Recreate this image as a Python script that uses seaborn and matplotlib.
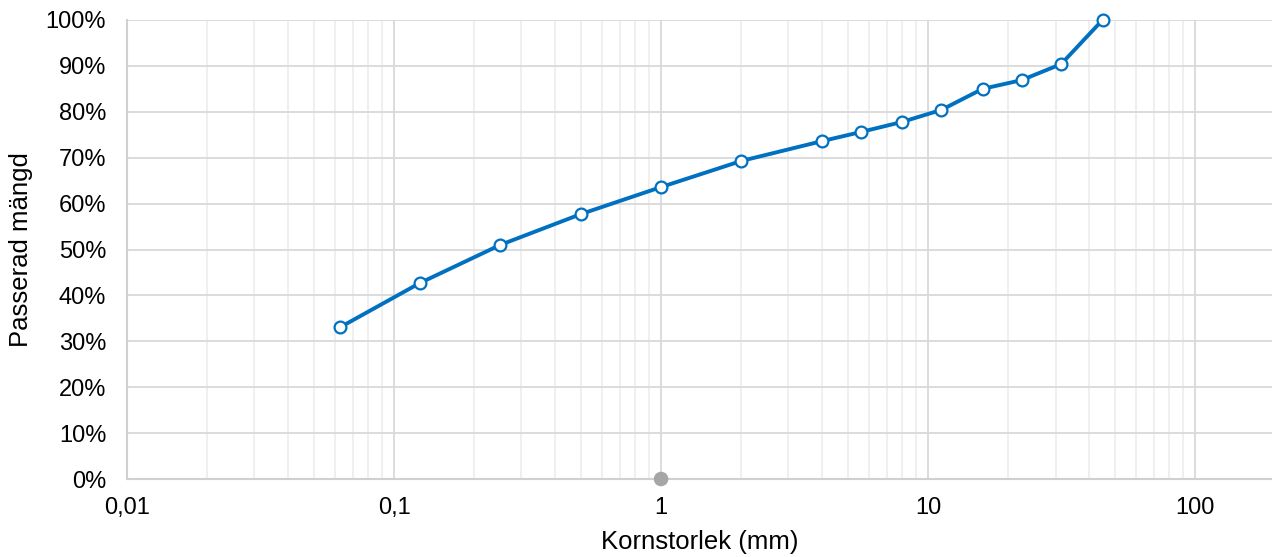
import matplotlib
matplotlib.use("Agg")
import matplotlib.pyplot as plt
import matplotlib.ticker as mticker
import numpy as np
import pandas as pd
import seaborn as sns

# Sieve analysis: grain size (mm) vs. cumulative passing (%)
sieve_mm = [0.063, 0.125, 0.25, 0.5, 1, 2, 4, 5.6, 8, 11.2, 16, 22.4, 31.5, 45]
passing_pct = [33.1, 42.7, 51.0, 57.7, 63.6, 69.3, 73.6, 75.6, 77.8, 80.4, 85.0, 86.9, 90.4, 100.0]

# Reference marker on the x axis
ref_mm = [1]
ref_pct = [0]

x_ticks = [0.01, 0.1, 1, 10, 100]
x_tick_labels = ["0,01", "0,1", "1", "10", "100"]
y_ticks = list(range(0, 101, 10))

sns.set_theme(style="white")
plt.rcParams["font.family"] = ["Liberation Sans", "DejaVu Sans"]

df = pd.DataFrame({"size": sieve_mm, "passing": passing_pct})
ref = pd.DataFrame({"size": ref_mm, "passing": ref_pct})

fig = plt.figure(figsize=(12.72, 5.57), dpi=100)
ax = fig.add_axes([127 / 1272, 1 - 479 / 557, 1 - 127 / 1272, (479 - 20) / 557])

ax.set_xscale("log")
ax.set_xlim(0.01, 194)
ax.set_ylim(0, 100)

# Grid: major decades darker, minor lighter
ax.xaxis.set_minor_locator(mticker.LogLocator(base=10, subs=np.arange(2, 10)))
ax.xaxis.set_minor_formatter(mticker.NullFormatter())
ax.grid(which="major", axis="both", color="#d9d9d9", linewidth=1.3)
ax.grid(which="minor", axis="x", color="#ececec", linewidth=1.2)
ax.set_axisbelow(True)

sns.lineplot(data=df, x="size", y="passing", ax=ax, color="#0070c0",
             linewidth=2.8, marker="o", markersize=8.5,
             markerfacecolor="white", markeredgecolor="#0070c0",
             markeredgewidth=1.6, clip_on=False, zorder=4)
sns.scatterplot(data=ref, x="size", y="passing", ax=ax, color="#a6a6a6",
                s=110, edgecolor="none", clip_on=False, zorder=5)

ax.set_xticks(x_ticks)
ax.set_xticklabels(x_tick_labels)
ax.set_yticks(y_ticks)
ax.set_yticklabels([f"{v}%" for v in y_ticks])
ax.tick_params(axis="both", which="both", length=0, labelsize=17,
               colors="black")
ax.tick_params(axis="x", pad=13)
ax.tick_params(axis="y", pad=15)

for side in ["top", "right"]:
    ax.spines[side].set_visible(False)
ax.spines["left"].set_color("#d0d0d0")
ax.spines["left"].set_linewidth(1.5)
ax.spines["bottom"].set_color("#d0d0d0")
ax.spines["bottom"].set_linewidth(1.5)

ax.set_xlabel("Kornstorlek (mm)", fontsize=18.5, color="black", labelpad=8)
ax.set_ylabel("Passerad mängd", fontsize=18.5, color="black", labelpad=9)

fig.savefig("out.png", dpi=100)
